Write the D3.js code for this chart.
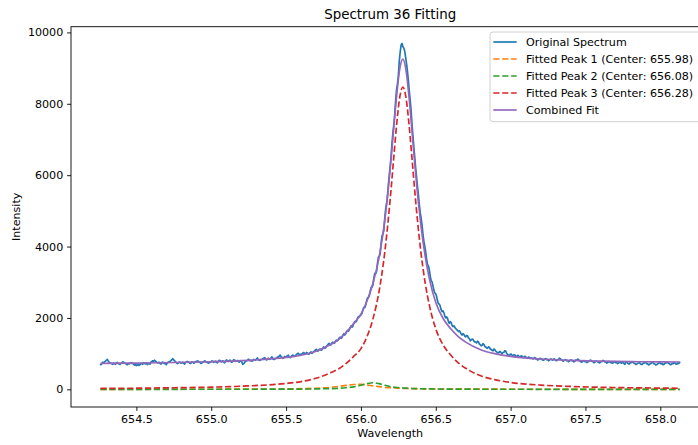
<!DOCTYPE html>
<html>
<head>
<meta charset="utf-8">
<script src="https://cdn.jsdelivr.net/npm/d3@7"></script>
<style>
body { margin:0; background:#fff; overflow:hidden; }
svg { display:block; font-family:"DejaVu Sans", sans-serif; }
</style>
</head>
<body>
<script>
// measured spectrum, on a regular wavelength grid from specStart to specEnd
var specStart = 654.257;
var specEnd = 658.134;
var spectrum = [
  // wing, 654.26 - 655.0
  705, 690, 720, 760, 745, 770, 790, 815, 840, 795, 760, 740, 730, 715, 700, 735, 715, 700, 740, 755,
  725, 710, 700, 725, 735, 770, 760, 735, 720, 705, 690, 725, 710, 730, 745, 725, 730, 700, 680, 695,
  665, 680, 700, 670, 690, 730, 720, 700, 745, 730, 710, 740, 695, 715, 730, 705, 760, 780, 800, 785,
  815, 790, 770, 745, 740, 760, 725, 705, 750, 765, 735, 720, 715, 690, 745, 760, 770, 785, 805, 830,
  860, 825, 800, 770, 750, 720, 735, 765, 760, 730, 740, 760, 725, 705, 755, 770, 780, 765, 750, 725,
  735, 770, 760, 735, 745, 780, 770, 795, 790, 765, 755, 725, 740, 770, 765, 800, 780, 760, 755, 735,
  745, 760, 770, 795,
  // 655.0 - 655.5
  790, 755, 770, 790, 760, 740, 785, 810, 805, 770, 780, 800, 765, 745, 790, 825, 810, 780, 795, 820,
  775, 760, 800, 830, 820, 795, 790, 810, 780, 760, 805, 785, 760, 700, 720, 755, 780, 800, 810, 845,
  830, 800, 815, 790, 800, 840, 825, 815, 850, 880, 830, 810, 815, 835, 845, 860, 870, 890, 850, 825,
  835, 875, 860, 840, 880, 910, 855, 835, 845, 865, 870, 905, 900, 930, 960, 915, 900, 870, 880, 920,
  905, 915,
  // 655.5 - 656.0
  940, 960, 905, 890, 915, 945, 960, 925, 930, 950, 975, 1000, 1010, 975, 960, 990, 985, 1020, 1030, 995,
  1000, 1035, 1015, 985, 990, 1030, 1050, 1010, 1030, 1060, 1075, 1110, 1120, 1070, 1080, 1120, 1130, 1095, 1110, 1160,
  1190, 1150, 1160, 1210, 1230, 1270, 1290, 1240, 1250, 1300, 1320, 1290, 1300, 1350, 1380, 1360, 1390, 1440, 1460, 1430,
  1450, 1520, 1560, 1520, 1550, 1610, 1650, 1630, 1660, 1730, 1780, 1740, 1770, 1850, 1900, 1880, 1910, 1990, 2040, 2030,
  2070, 2090,
  // line core, 656.0 - 656.63
  2130, 2230, 2300, 2290, 2350, 2470, 2560, 2570, 2620, 2740, 2850, 2860, 2920, 3100, 3250, 3240, 3300, 3520, 3700, 3720,
  3800, 4080, 4300, 4350, 4450, 4780, 5050, 5200, 5400, 5720, 6000, 6250, 6550, 6900, 7200, 7420, 7700, 8100, 8400, 8560,
  8800, 9200, 9450, 9650, 9690, 9600, 9560, 9470, 9300, 9120, 8900, 8650, 8350, 8100, 7800, 7420, 7100, 6780, 6500, 6200,
  5950, 5680, 5450, 5180, 4950, 4800, 4600, 4350, 4150, 4010, 3850, 3650, 3500, 3460, 3350, 3170, 3050, 3010, 2900, 2780,
  2700, 2680, 2600, 2480, 2400, 2390, 2330, 2230, 2180, 2200, 2150, 2050, 2000, 2030, 1990, 1900, 1850, 1900, 1870, 1790,
  1760, 1780, 1740, 1700,
  // red wing, 656.64 - 658.13
  1680, 1650, 1620, 1640, 1600, 1550, 1520, 1560, 1540, 1490, 1470, 1510, 1500, 1440, 1420, 1360, 1380, 1410, 1400, 1350,
  1330, 1320, 1300, 1350, 1330, 1270, 1250, 1220, 1230, 1280, 1260, 1200, 1190, 1160, 1150, 1190, 1180, 1130, 1120, 1090,
  1080, 1130, 1110, 1070, 1050, 1030, 1020, 1050, 1060, 1020, 1000, 1030, 1040, 1080, 1070, 1010, 980, 965, 950, 980,
  990, 955, 940, 970, 960, 925, 920, 950, 945, 905, 900, 940, 930, 895, 890, 925, 910, 880, 870, 905,
  900, 865, 880, 870, 850, 875, 890, 855, 860, 825, 830, 865, 870, 840, 845, 815, 820, 850, 860, 830,
  840, 800, 815, 845, 850, 820, 825, 855, 840, 810, 805, 830, 835, 875, 860, 830, 820, 790, 800, 825,
  830, 800, 810, 775, 790, 815, 825, 795, 800, 770, 785, 820, 815, 845, 835, 800, 790, 760, 770, 790,
  805, 775, 785, 750, 760, 780, 790, 820, 810, 780, 775, 745, 760, 785, 795, 765, 770, 740, 755, 780,
  785, 810, 800, 770, 765, 735, 750, 775, 780, 750, 760, 730, 740, 770, 775, 745, 755, 720, 735, 760,
  760, 730, 745, 760, 720, 700, 755, 770, 735, 710, 715, 750, 745, 775, 760, 730, 725, 695, 705, 730,
  740, 755, 720, 695, 700, 725, 735, 765, 750, 720, 715, 685, 695, 720, 730, 760, 745, 715, 710, 680,
  690, 715, 725, 750, 740, 710, 720, 690, 700, 735, 730, 765, 755, 725, 720, 690, 695, 725, 715, 750,
  740, 710, 705, 735, 720, 755, 745
];

// fitted curves, read at these wavelengths
var fitWavelengths = [654.26, 654.5, 654.75, 655.0, 655.25, 655.5, 655.6, 655.7, 655.8, 655.85,
  655.9, 655.95, 656.0, 656.04, 656.08, 656.12, 656.16, 656.2, 656.22, 656.24,
  656.26, 656.28, 656.3, 656.32, 656.34, 656.36, 656.38, 656.4, 656.43, 656.46,
  656.5, 656.55, 656.6, 656.65, 656.7, 656.8, 656.9, 657.0, 657.2, 657.4,
  657.6, 657.8, 658.0, 658.13];
var peak1 = [1, 1, 2, 3, 6, 12, 19, 31, 57, 80,
  109, 135, 138, 121, 97, 75, 57, 44, 39, 35,
  31, 28, 25, 23, 21, 19, 17, 16, 14, 12,
  11, 9, 8, 7, 6, 4, 4, 3, 2, 1,
  1, 1, 1, 1];
var peak2 = [1, 1, 1, 2, 3, 5, 8, 12, 21, 29,
  44, 69, 113, 159, 185, 159, 113, 76, 62, 52,
  44, 37, 32, 27, 24, 21, 18, 16, 14, 12,
  10, 8, 7, 5, 5, 3, 3, 2, 1, 1,
  1, 1, 0, 0];
var peak3 = [25, 32, 44, 62, 96, 165, 216, 309, 470, 572,
  720, 915, 1140, 1470, 1967, 2719, 3868, 5540, 6528, 7481,
  8199, 8470, 8199, 7481, 6528, 5540, 4638, 3868, 2962, 2303,
  1694, 1240, 960, 743, 590, 380, 265, 193, 119, 81,
  58, 44, 34, 30];
var combined = [727, 736, 752, 773, 813, 894, 955, 1065, 1262, 1395,
  1588, 1834, 2107, 2466, 2965, 3670, 4755, 6378, 7347, 8286,
  8992, 9253, 8974, 8250, 7292, 6299, 5393, 4620, 3710, 3047,
  2435, 1978, 1695, 1477, 1323, 1111, 995, 923, 849, 812,
  790, 777, 769, 766];

var xTicks = [654.5, 655.0, 655.5, 656.0, 656.5, 657.0, 657.5, 658.0];
var yTicks = [0, 2000, 4000, 6000, 8000, 10000];
var legendNames = ["Original Spectrum", "Fitted Peak 1 (Center: 655.98)", "Fitted Peak 2 (Center: 656.08)",
  "Fitted Peak 3 (Center: 656.28)", "Combined Fit"];
var legendColors = ["#1f77b4", "#ff7f0e", "#2ca02c", "#d62728", "#9467bd"];
var legendDashed = [false, true, true, true, false];

var totalWidth = 698;
var totalHeight = 445;
var plot = {left:71, top:26.7, right:709.4, bottom:407};
var fontSize = 11.1;
var lw = 1.67;
var dash = "6.2,2.7";

var svg = d3.select("body")
    .append("svg")
    .attr("width", totalWidth)
    .attr("height", totalHeight);

var x = d3.scaleLinear()
    .domain([654.0632, 658.3279])
    .range([plot.left, plot.right]);

var y = d3.scaleLinear()
    .domain([-495, 10160])
    .range([plot.bottom, plot.top]);

// axes
var xAxis = svg.append("g")
    .attr("transform", "translate(0," + plot.bottom + ")")
    .call(d3.axisBottom(x).tickValues(xTicks).tickFormat(d3.format(".1f"))
          .tickSize(3.9).tickPadding(3.9).tickSizeOuter(0));

var yAxis = svg.append("g")
    .attr("transform", "translate(" + plot.left + ",0)")
    .call(d3.axisLeft(y).tickValues(yTicks).tickFormat(d3.format("d"))
          .tickSize(3.9).tickPadding(3.9).tickSizeOuter(0));

[xAxis, yAxis].forEach(function(a) {
  a.select(".domain").remove();
  a.selectAll("line").attr("stroke", "#000").attr("stroke-width", 0.9);
  a.selectAll("text")
   .attr("fill", "#000")
   .style("font-size", fontSize + "px")
   .style("font-family", "DejaVu Sans, sans-serif");
});

// lines
var specStep = (specEnd - specStart) / (spectrum.length - 1);
var specPoints = spectrum.map(function(v, i) { return [specStart + i * specStep, v]; });

var line = d3.line()
    .x(d => x(d[0]))
    .y(d => y(d[1]));

var smooth = d3.line()
    .x(d => x(d[0]))
    .y(d => y(d[1]))
    .curve(d3.curveMonotoneX);

function fitPoints(values) {
  return fitWavelengths.map(function(w, i) { return [w, values[i]]; });
}

svg.append("path")
   .attr("d", line(specPoints))
   .attr("fill", "none")
   .attr("stroke", legendColors[0])
   .attr("stroke-width", lw)
   .attr("stroke-linejoin", "round");

[peak1, peak2, peak3].forEach(function(p, k) {
  svg.append("path")
     .attr("d", smooth(fitPoints(p)))
     .attr("fill", "none")
     .attr("stroke", legendColors[k + 1])
     .attr("stroke-width", lw)
     .attr("stroke-dasharray", dash);
});

svg.append("path")
   .attr("d", smooth(fitPoints(combined)))
   .attr("fill", "none")
   .attr("stroke", legendColors[4])
   .attr("stroke-width", lw);

// frame
svg.append("rect")
   .attr("x", plot.left)
   .attr("y", plot.top)
   .attr("width", plot.right - plot.left)
   .attr("height", plot.bottom - plot.top)
   .attr("fill", "none")
   .attr("stroke", "#000")
   .attr("stroke-width", 0.9);

// titles
svg.append("text")
   .attr("x", (plot.left + plot.right) / 2)
   .attr("y", 19)
   .attr("text-anchor", "middle")
   .style("font-size", "13.4px")
   .text("Spectrum 36 Fitting");

svg.append("text")
   .attr("x", (plot.left + plot.right) / 2)
   .attr("y", 437)
   .attr("text-anchor", "middle")
   .style("font-size", fontSize + "px")
   .text("Wavelength");

svg.append("text")
   .attr("transform", "translate(20," + ((plot.top + plot.bottom) / 2) + ") rotate(-90)")
   .attr("text-anchor", "middle")
   .style("font-size", fontSize + "px")
   .text("Intensity");

// legend
var legend = svg.append("g")
    .attr("transform", "translate(490,32)");

legend.append("rect")
   .attr("width", 212)
   .attr("height", 89.7)
   .attr("rx", 3)
   .attr("fill", "#fff")
   .attr("fill-opacity", 0.8)
   .attr("stroke", "#cccccc")
   .attr("stroke-width", 0.9);

legendNames.forEach(function(name, i) {
  var ly = 10 + i * 17;
  legend.append("line")
     .attr("x1", 3.3).attr("x2", 26.7)
     .attr("y1", ly).attr("y2", ly)
     .attr("stroke", legendColors[i])
     .attr("stroke-width", lw)
     .attr("stroke-dasharray", legendDashed[i] ? dash : null);
  legend.append("text")
     .attr("x", 36)
     .attr("y", ly)
     .attr("dy", "0.36em")
     .style("font-size", fontSize + "px")
     .text(name);
});
</script>
</body>
</html>
